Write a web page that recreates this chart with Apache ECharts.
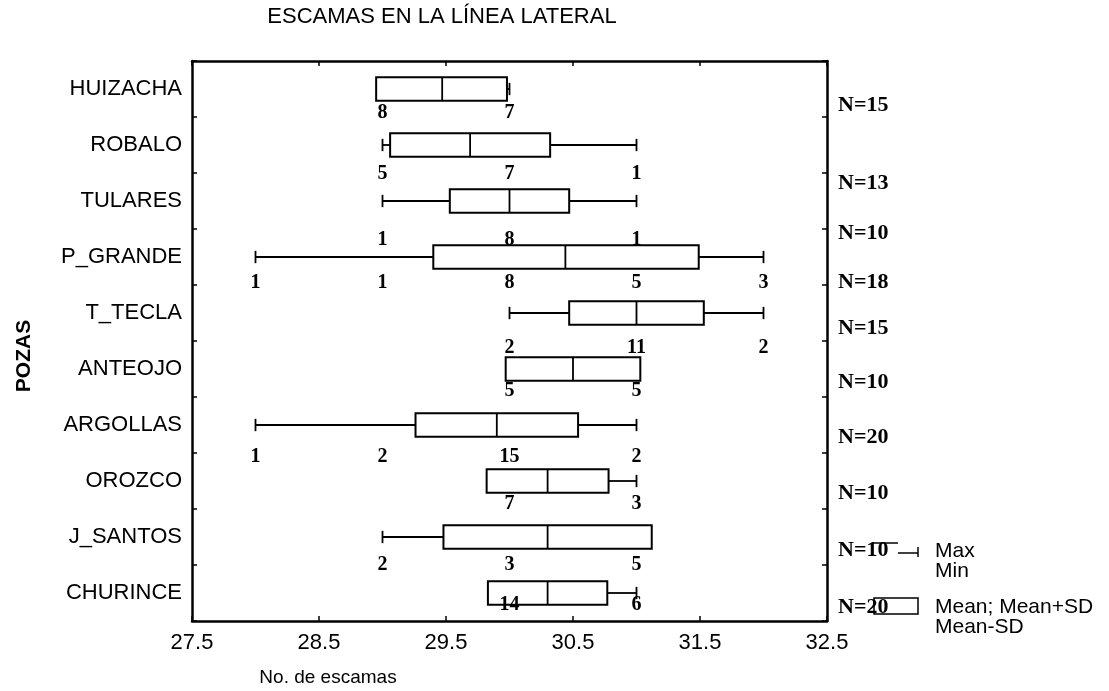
<!DOCTYPE html>
<html><head><meta charset="utf-8">
<script src="https://cdn.jsdelivr.net/npm/echarts@6/dist/echarts.min.js"></script>
<style>html,body{margin:0;padding:0;background:#fff}#c{width:1109px;height:691px}</style>
</head><body><div id="c"></div>
<script>
// ---- data ----
const categories = ['HUIZACHA','ROBALO','TULARES','P_GRANDE','T_TECLA','ANTEOJO','ARGOLLAS','OROZCO','J_SANTOS','CHURINCE'];
const minVals     = [29,    29,    29,    28,    30,    30,    28,    30,    29,    30];
const meanMinusSD = [28.95, 29.06, 29.53, 29.40, 30.47, 29.97, 29.26, 29.82, 29.48, 29.83];
const means       = [29.47, 29.69, 30.00, 30.44, 31.00, 30.50, 29.90, 30.30, 30.30, 30.30];
const meanPlusSD  = [29.98, 30.32, 30.47, 31.49, 31.53, 31.03, 30.54, 30.78, 31.12, 30.77];
const maxVals     = [30,    31,    31,    32,    32,    31,    31,    31,    31,    31];
const nCounts     = [15, 13, 10, 18, 15, 10, 20, 10, 10, 20];
const freqValues  = [[29,30],[29,30,31],[29,30,31],[28,29,30,31,32],[30,31,32],[30,31],[28,29,30,31],[30,31],[29,30,31],[30,31]];
const freqCounts  = [[8,7],[5,7,1],[1,8,1],[1,1,8,5,3],[2,11,2],[5,5],[1,2,15,2],[7,3],[2,3,5],[14,6]];
const xTicks = ['27.5','28.5','29.5','30.5','31.5','32.5'];

// ---- layout (pixel offsets, not data) ----
const boxDy  = [0,0,0,0,0,0,0,0,0,0];
const freqDy = [24,29,39,26,35,22,32,23,28,12];
const nDy    = [16,38,32,25,15,13,12,12,13,14];

const boxData = categories.map((c,i)=>[i, minVals[i], meanMinusSD[i], means[i], meanPlusSD[i], maxVals[i]]);
const freqData = [];
categories.forEach((c,i)=>freqValues[i].forEach((v,j)=>freqData.push([v, i, freqCounts[i][j]])));
const nData = categories.map((c,i)=>[+xTicks[xTicks.length-1], i, nCounts[i]]);

const SANS = '"Liberation Sans", Arial, sans-serif';
const SERIF = '"Liberation Serif", "Times New Roman", serif';

function renderBox(params, api){
  const i = api.value(0);
  const pMin = api.coord([api.value(1), i]);
  const pLo = api.coord([api.value(2), i]);
  const pMean = api.coord([api.value(3), i]);
  const pHi = api.coord([api.value(4), i]);
  const pMax = api.coord([api.value(5), i]);
  const band = api.size([0,1])[1];
  const h = band*0.42, cap = band*0.22;
  const y = pMean[1] + boxDy[i];
  const st = {stroke:'#000', lineWidth:1.8, fill:null};
  return {type:'group', children:[
    {type:'line', shape:{x1:pMin[0],y1:y,x2:pLo[0],y2:y}, style:st},
    {type:'line', shape:{x1:pHi[0],y1:y,x2:pMax[0],y2:y}, style:st},
    {type:'line', shape:{x1:pMin[0],y1:y-cap/2,x2:pMin[0],y2:y+cap/2}, style:st},
    {type:'line', shape:{x1:pMax[0],y1:y-cap/2,x2:pMax[0],y2:y+cap/2}, style:st},
    {type:'rect', shape:{x:pLo[0], y:y-h/2, width:pHi[0]-pLo[0], height:h}, style:{stroke:'#000', lineWidth:2, fill:'#fff'}},
    {type:'line', shape:{x1:pMean[0],y1:y-h/2,x2:pMean[0],y2:y+h/2}, style:st}
  ]};
}
function renderFreq(params, api){
  const i = api.value(1);
  const p = api.coord([api.value(0), i]);
  return {type:'text', x:p[0], y:p[1]+freqDy[i], style:{text:String(api.value(2)), font:'bold 20px '+SERIF, fill:'#000', align:'center', verticalAlign:'middle', textAlign:'center', textVerticalAlign:'middle'}};
}
function renderN(params, api){
  const i = api.value(1);
  const p = api.coord([api.value(0), i]);
  return {type:'text', x:p[0]+11, y:p[1]+nDy[i], style:{text:'N='+api.value(2), font:'bold 22px '+SERIF, fill:'#000', align:'left', verticalAlign:'middle', textAlign:'left', textVerticalAlign:'middle'}};
}

const chart = echarts.init(document.getElementById('c'), null, {renderer:'canvas'});
const axisLine = {show:true, lineStyle:{color:'#000', width:2.5}};
const tick = {show:true, inside:true, length:5, lineStyle:{color:'#000', width:1.5}};
chart.setOption({
  animation:false,
  backgroundColor:'#fff',
  grid:{left:192, right:282, top:61, bottom:70, containLabel:false, outerBoundsMode:'none'},
  xAxis:[
    {type:'value', min:+xTicks[0], max:+xTicks[xTicks.length-1], interval:1, position:'bottom',
     axisLine, axisTick:tick,
     axisLabel:{color:'#000', fontFamily:SANS, fontSize:22, margin:11, formatter:v=>v.toFixed(1)},
     splitLine:{show:false}},
    {type:'value', min:+xTicks[0], max:+xTicks[xTicks.length-1], interval:1, position:'top',
     axisLine, axisTick:tick, axisLabel:{show:false}, splitLine:{show:false}}
  ],
  yAxis:[
    {type:'category', data:categories, inverse:true, position:'left',
     axisLine, axisTick:tick,
     axisLabel:{color:'#000', fontFamily:SANS, fontSize:22, margin:10}},
    {type:'category', data:categories, inverse:true, position:'right',
     axisLine, axisTick:tick, axisLabel:{show:false}}
  ],
  series:[
    {type:'custom', renderItem:renderBox, data:boxData, encode:{x:[1,2,3,4,5], y:0}, clip:false},
    {type:'custom', renderItem:renderFreq, data:freqData, encode:{x:0, y:1}, clip:false, z:5},
    {type:'custom', renderItem:renderN, data:nData, encode:{x:0, y:1}, clip:false, z:5}
  ],
  graphic:[
    {type:'text', x:442, y:17, style:{text:'ESCAMAS EN LA LÍNEA LATERAL', font:'22px '+SANS, fill:'#000', align:'center', verticalAlign:'middle'}},
    {type:'text', x:328, y:678, style:{text:'No. de escamas', font:'19px '+SANS, fill:'#000', align:'center', verticalAlign:'middle'}},
    {type:'text', x:24, y:356, rotation:Math.PI/2, style:{text:'POZAS', font:'bold 21px '+SANS, fill:'#000', align:'center', verticalAlign:'middle'}},
    // legend symbols
    {type:'polyline', shape:{points:[[872,543],[898,543]]}, style:{stroke:'#000', lineWidth:1.5}},
    {type:'polyline', shape:{points:[[898,553],[918,553]]}, style:{stroke:'#000', lineWidth:1.5}},
    {type:'line', shape:{x1:918,y1:547,x2:918,y2:557}, style:{stroke:'#000', lineWidth:1.5}},
    {type:'rect', shape:{x:874, y:598, width:44, height:16}, style:{stroke:'#000', lineWidth:1.5, fill:null}},
    {type:'text', x:935, y:551, style:{text:'Max', font:'21px '+SANS, fill:'#000', verticalAlign:'middle'}},
    {type:'text', x:935, y:571, style:{text:'Min', font:'21px '+SANS, fill:'#000', verticalAlign:'middle'}},
    {type:'text', x:935, y:607, style:{text:'Mean; Mean+SD', font:'21px '+SANS, fill:'#000', verticalAlign:'middle'}},
    {type:'text', x:935, y:627, style:{text:'Mean-SD', font:'21px '+SANS, fill:'#000', verticalAlign:'middle'}}
  ]
});
</script></body></html>
